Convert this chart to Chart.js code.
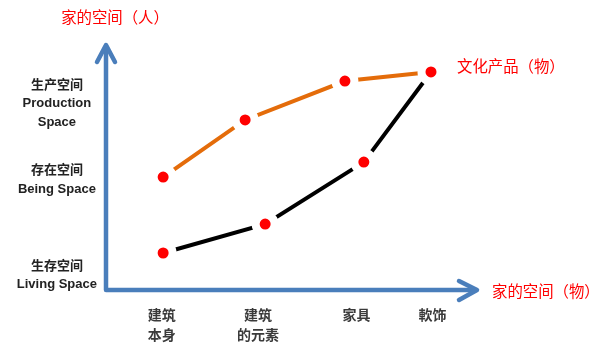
<!DOCTYPE html>
<html lang="zh-cn">
<head>
    <meta charset="UTF-8">
    <title>家的空间</title>
    <script src="https://cdn.jsdelivr.net/npm/chart.js"></script>
    <style>
        body { margin: 0; background: #fff; }
        #wrap { width: 600px; height: 351px; position: relative; }
    </style>
</head>
<body>
    <div id="wrap"><canvas id="spaceChart"></canvas></div>

    <script>
        // eixo x: posições dos rótulos (escala 0-10)
        const xTickPos = [1.5, 4.1, 6.75, 8.8];
        const xTickLabels = [['建筑', '本身'], ['建筑', '的元素'], ['家具'], ['軟饰']];

        // eixo y: posições dos rótulos (escala 0-10)
        const yTickPos = [0.6, 4.5, 7.6];
        const yTickLabels = [
            ['生存空间', 'Living Space'],
            ['存在空间', 'Being Space'],
            ['生产空间', 'Production', 'Space']
        ];

        // linha laranja
        const orangeX = [1.54, 3.75, 6.44, 8.76];
        const orangeY = [4.61, 6.94, 8.53, 8.9];

        // linha preta
        const blackX = [1.54, 4.29, 6.95, 8.76];
        const blackY = [1.51, 2.69, 5.22, 8.9];

        const yTitle = '家的空间（人）';
        const xTitle = '家的空间（物）';
        const pointNote = '文化产品（物）';

        const toPoints = (xs, ys) => xs.map((x, i) => ({ x: x, y: ys[i] }));

        const axisBlue = '#4a7ebb';

        const axesPlugin = {
            id: 'arrowAxes',
            beforeDatasetsDraw(chart) {
                const { ctx, chartArea: a } = chart;
                ctx.save();
                ctx.strokeStyle = axisBlue;
                ctx.lineWidth = 4.5;
                ctx.lineCap = 'round';
                ctx.lineJoin = 'round';
                // eixos
                ctx.beginPath();
                ctx.moveTo(a.left, a.top + 2);
                ctx.lineTo(a.left, a.bottom);
                ctx.lineTo(a.right - 1, a.bottom);
                ctx.stroke();
                // setas
                ctx.beginPath();
                ctx.moveTo(a.left - 9, a.top + 17);
                ctx.lineTo(a.left, a.top);
                ctx.lineTo(a.left + 9, a.top + 17);
                ctx.moveTo(a.right - 18, a.bottom - 9);
                ctx.lineTo(a.right, a.bottom);
                ctx.lineTo(a.right - 18, a.bottom + 10);
                ctx.stroke();
                ctx.restore();
            },
            afterDraw(chart) {
                const { ctx, chartArea: a } = chart;
                const xs = chart.scales.x, ys = chart.scales.y;
                ctx.save();
                ctx.fillStyle = '#ff0000';
                ctx.font = '15.4px "Noto Sans CJK SC", sans-serif';
                ctx.textBaseline = 'middle';
                ctx.textAlign = 'center';
                ctx.fillText(yTitle, a.left + 9, 17);
                ctx.textAlign = 'left';
                ctx.fillText(xTitle, a.right + 15, a.bottom + 1);
                const lx = xs.getPixelForValue(orangeX[orangeX.length - 1]);
                const ly = ys.getPixelForValue(orangeY[orangeY.length - 1]);
                ctx.fillText(pointNote, lx + 26, ly - 6);
                ctx.restore();
            }
        };

        const ctx = document.getElementById('spaceChart').getContext('2d');

        new Chart(ctx, {
            type: 'scatter',
            data: {
                datasets: [{
                    data: toPoints(orangeX, orangeY),
                    showLine: true,
                    borderColor: '#e46c0a',
                    borderWidth: 4,
                    pointRadius: 9.5,
                    pointBackgroundColor: '#ff0000',
                    pointBorderColor: '#ffffff',
                    pointBorderWidth: 8,
                    pointHoverRadius: 9.5
                }, {
                    data: toPoints(blackX, blackY),
                    showLine: true,
                    borderColor: '#000000',
                    borderWidth: 4,
                    pointRadius: 9.5,
                    pointBackgroundColor: '#ff0000',
                    pointBorderColor: '#ffffff',
                    pointBorderWidth: 8,
                    pointHoverRadius: 9.5
                }]
            },
            options: {
                responsive: true,
                maintainAspectRatio: false,
                animation: false,
                layout: { padding: { top: 45, right: 123, bottom: 0, left: 0 } },
                plugins: {
                    legend: { display: false },
                    tooltip: { enabled: false }
                },
                scales: {
                    x: {
                        type: 'linear',
                        min: 0,
                        max: 10,
                        grid: { display: false },
                        border: { display: false },
                        afterBuildTicks: (s) => { s.ticks = xTickPos.map(v => ({ value: v })); },
                        afterFit: (s) => { s.height = 61; },
                        ticks: {
                            callback: (v, i) => xTickLabels[i],
                            padding: 7,
                            maxRotation: 0,
                            autoSkip: false,
                            color: '#3a3a3a',
                            font: { family: '"Noto Sans CJK SC", sans-serif', size: 14, weight: 'bold', lineHeight: 1.42 }
                        }
                    },
                    y: {
                        type: 'linear',
                        min: 0,
                        max: 10,
                        grid: { display: false },
                        border: { display: false },
                        afterBuildTicks: (s) => { s.ticks = yTickPos.map(v => ({ value: v })); },
                        afterFit: (s) => { s.width = 106; },
                        ticks: {
                            callback: (v, i) => yTickLabels[i],
                            padding: 1,
                            crossAlign: 'center',
                            autoSkip: false,
                            color: '#222222',
                            font: { family: '"Liberation Sans", "Noto Sans CJK SC", sans-serif', size: 13, weight: 'bold', lineHeight: 1.42 }
                        }
                    }
                }
            },
            plugins: [axesPlugin]
        });
    </script>
</body>
</html>
